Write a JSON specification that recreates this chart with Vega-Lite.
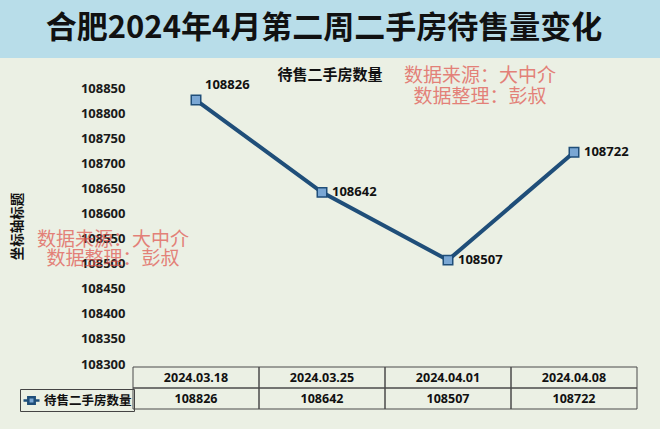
{
  "$schema": "https://vega.github.io/schema/vega-lite/v6.json",
  "background": "#ebf0e4",
  "padding": 0,
  "spacing": 0,
  "bounds": "flush",
  "config": {"view": {"stroke": null}},
  "datasets": {
    "main": [
      {"date": "2024.03.18", "value": 108826},
      {"date": "2024.03.25", "value": 108642},
      {"date": "2024.04.01", "value": 108507},
      {"date": "2024.04.08", "value": 108722}
    ],
    "wm": [
      {"group": "top", "date": "2024.04.01", "value": 108874, "text": "数据来源：大中介"},
      {"group": "top", "date": "2024.04.01", "value": 108832, "text": "数据整理：彭叔"},
      {"group": "left", "date": "2024.03.18", "value": 108547, "text": "数据来源：大中介"},
      {"group": "left", "date": "2024.03.18", "value": 108509, "text": "数据整理：彭叔"}
    ]
  },
  "resolve": {"legend": {"color": "independent"}},
  "vconcat": [
    {
      "width": 660,
      "height": 58,
      "view": {"fill": "#b8dde9", "stroke": null},
      "data": {"values": [{"t": "合肥2024年4月第二周二手房待售量变化"}]},
      "mark": {"type": "text", "font": "Noto Sans CJK SC", "fontWeight": "bold", "fontSize": 31, "color": "#111111", "baseline": "middle", "align": "center", "dx": -6},
      "encoding": {"text": {"field": "t", "type": "nominal"}}
    },
    {
      "width": 660,
      "height": 309,
      "title": {"text": "待售二手房数量", "offset": -25, "fontSize": 15, "fontWeight": "bold", "font": "Noto Sans CJK SC", "color": "#111111", "anchor": "middle"},
      "encoding": {
        "x": {"field": "date", "type": "nominal", "sort": null, "axis": null,
              "scale": {"type": "band", "domain": ["2024.03.18", "2024.03.25", "2024.04.01", "2024.04.08"], "range": [133, 637], "paddingInner": 0, "paddingOuter": 0}},
        "y": {"field": "value", "type": "quantitative",
              "scale": {"domain": [108300, 108850], "range": [306, 30], "zero": false, "nice": false},
              "axis": {"title": "坐标轴标题", "offset": -130, "domain": false, "ticks": false, "grid": false,
                       "values": [108300, 108350, 108400, 108450, 108500, 108550, 108600, 108650, 108700, 108750, 108800, 108850],
                       "format": "d", "labelPadding": 5, "labelFont": "Open Sans", "labelFontWeight": "bold", "labelFontSize": 13, "labelColor": "#1a1a1a",
                       "titleFont": "Noto Sans CJK SC", "titleFontWeight": "bold", "titleFontSize": 13.5, "titleColor": "#111111", "titlePadding": 56}}
      },
      "layer": [
        {
          "data": {"name": "wm"},
          "transform": [{"filter": "datum.group === 'top'"}],
          "mark": {"type": "text", "font": "Noto Sans CJK SC", "fontSize": 19, "color": "#e0564f", "opacity": 0.72, "dx": 32, "align": "center", "baseline": "middle"},
          "encoding": {"text": {"field": "text", "type": "nominal"}}
        },
        {
          "data": {"name": "wm"},
          "transform": [{"filter": "datum.group === 'left'"}],
          "mark": {"type": "text", "font": "Noto Sans CJK SC", "fontSize": 19, "color": "#e0564f", "opacity": 0.72, "dx": -83, "align": "center", "baseline": "middle"},
          "encoding": {"text": {"field": "text", "type": "nominal"}}
        },
        {
          "data": {"name": "main"},
          "mark": {"type": "line", "strokeWidth": 4},
          "encoding": {
            "color": {"datum": "待售二手房数量", "type": "nominal",
                      "scale": {"range": ["#1f4e79"]},
                      "legend": {"orient": "none", "legendX": 20, "legendY": 331, "title": null,
                                 "symbolType": "M-1,0H-0.4M0.4,0H1M-0.4,-0.4H0.4V0.4H-0.4Z", "symbolSize": 256,
                                 "symbolStrokeWidth": 2.5, "symbolStrokeColor": "#1f4e79", "symbolFillColor": "#7aa7d4",
                                 "strokeColor": "#444444", "padding": 2, "labelFont": "Noto Sans CJK SC", "labelFontWeight": "bold",
                                 "labelFontSize": 12.5, "labelColor": "#111111", "labelOffset": 3}}
          }
        },
        {
          "data": {"name": "main"},
          "mark": {"type": "point", "shape": "square", "size": 90, "filled": true, "fill": "#7aa7d4", "stroke": "#1f4e79", "strokeWidth": 1.5, "opacity": 1}
        },
        {
          "data": {"name": "main"},
          "transform": [{"filter": "datum.date !== '2024.03.18'"}],
          "mark": {"type": "text", "align": "left", "baseline": "middle", "dx": 10, "font": "Open Sans", "fontWeight": "bold", "fontSize": 13, "color": "#111111"},
          "encoding": {"text": {"field": "value", "type": "quantitative", "format": "d"}}
        },
        {
          "data": {"name": "main"},
          "transform": [{"filter": "datum.date === '2024.03.18'"}],
          "mark": {"type": "text", "align": "left", "baseline": "middle", "dx": 9, "dy": -15, "font": "Open Sans", "fontWeight": "bold", "fontSize": 13, "color": "#111111"},
          "encoding": {"text": {"field": "value", "type": "quantitative", "format": "d"}}
        }
      ]
    },
    {
      "width": 660,
      "height": 62,
      "data": {"name": "main"},
      "transform": [{"fold": ["date", "value"], "as": ["row", "cell"]}],
      "encoding": {
        "x": {"field": "date", "type": "nominal", "sort": null, "axis": null,
              "scale": {"type": "band", "domain": ["2024.03.18", "2024.03.25", "2024.04.01", "2024.04.08"], "range": [133, 637], "paddingInner": 0, "paddingOuter": 0}},
        "y": {"field": "row", "type": "nominal", "axis": null,
              "scale": {"type": "band", "domain": ["date", "value"], "range": [0, 42], "paddingInner": 0, "paddingOuter": 0}}
      },
      "layer": [
        {"mark": {"type": "rect", "fill": null, "filled": false, "stroke": "#4a4a4a", "strokeWidth": 1}},
        {"mark": {"type": "text", "font": "Open Sans", "fontWeight": "bold", "fontSize": 12.5, "color": "#111111", "baseline": "middle"},
         "encoding": {"text": {"field": "cell", "type": "nominal"}}}
      ]
    }
  ]
}
